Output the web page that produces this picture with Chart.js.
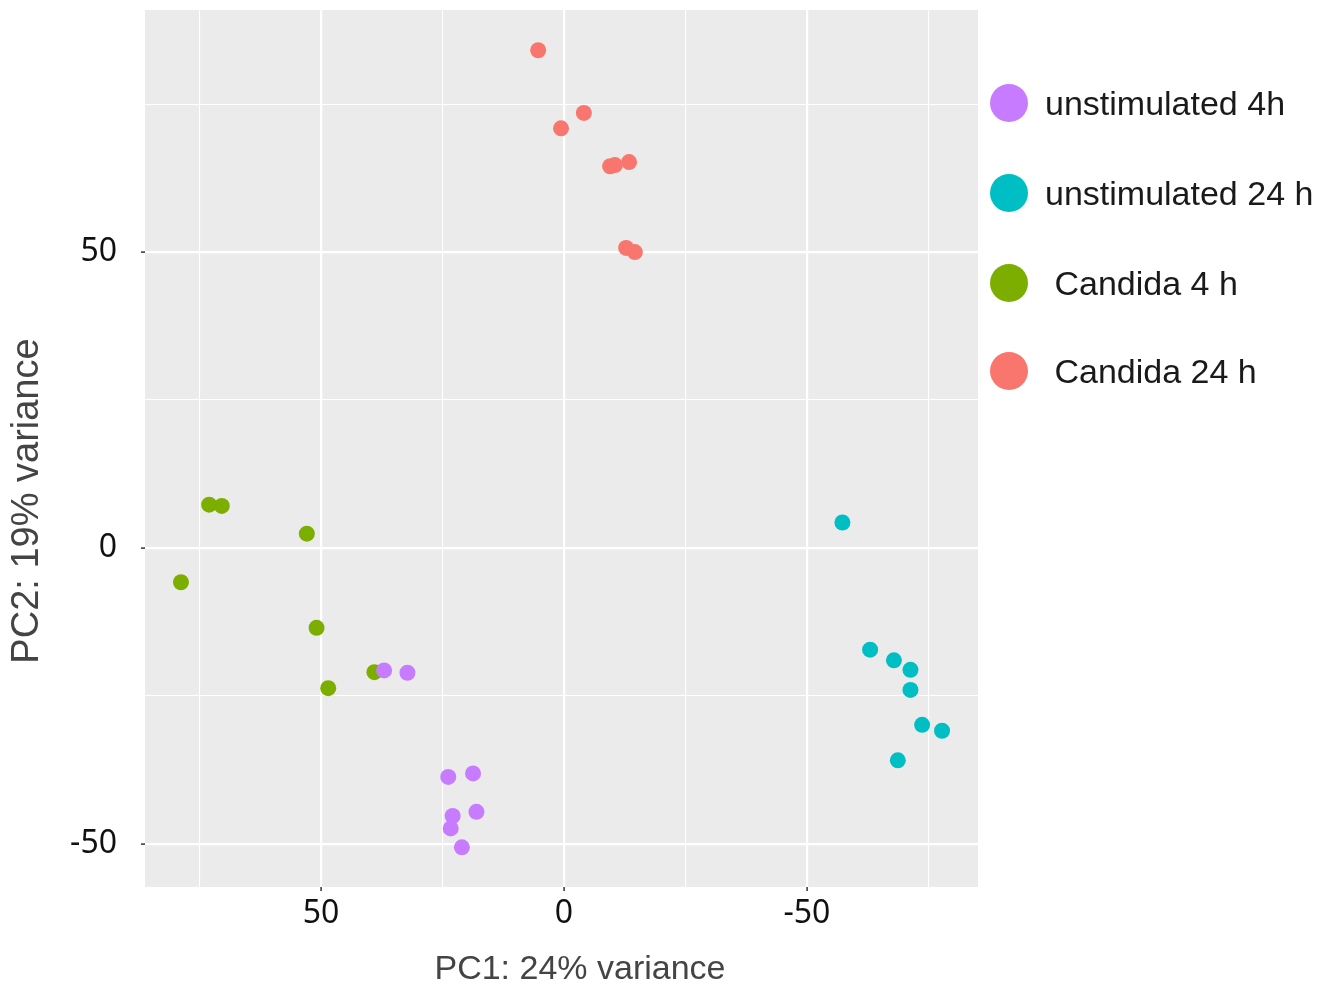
<!DOCTYPE html>
<html>
<head>
<meta charset="utf-8">
<script src="https://cdn.jsdelivr.net/npm/chart.js@4/dist/chart.umd.min.js"></script>
<style>
  body { margin: 0; background: #fff; }
  #wrap { position: relative; width: 1336px; height: 987px; }
  .leg { position: absolute; left: 990px; height: 40px; display: flex; align-items: center;
         font-family: 'Liberation Sans', Arial, sans-serif; font-size: 34px; color: #1a1a1a; white-space: pre; }
  .leg i { display: inline-block; width: 38px; height: 38px; border-radius: 50%; margin-right: 17px; }
</style>
</head>
<body>
<div id="wrap">
  <canvas id="myChart" width="1336" height="987"></canvas>
  <div id="legend"></div>
</div>
<script>
const groups = ['unstimulated 4h', 'unstimulated 24 h', ' Candida 4 h', ' Candida 24 h']
const colors = ['#C77CFF', '#00BFC4', '#7CAE00', '#F8766D']

// PC1 / PC2 per group
const unstim4_pc1 = [37.0, 32.2, 23.8, 18.7, 22.9, 18.0, 23.3, 21.0]
const unstim4_pc2 = [-20.7, -21.1, -38.7, -38.1, -45.3, -44.6, -47.4, -50.6]
const unstim24_pc1 = [-57.3, -63.0, -67.9, -71.3, -71.3, -73.7, -77.8, -68.7]
const unstim24_pc2 = [4.3, -17.2, -19.0, -20.6, -24.0, -29.9, -30.9, -35.9]
const candida4_pc1 = [73.0, 70.4, 52.9, 78.8, 50.9, 39.0, 48.5]
const candida4_pc2 = [7.3, 7.1, 2.4, -5.8, -13.5, -21.0, -23.7]
const candida24_pc1 = [5.3, 0.6, -4.1, -9.5, -10.5, -13.4, -12.8, -14.6]
const candida24_pc2 = [84.1, 70.9, 73.5, 64.5, 64.7, 65.2, 50.7, 50.0]

const xTicks = [-75, -50, -25, 0, 25, 50, 75]
const yTicks = [-50, -25, 0, 25, 50, 75]

function pts(xs, ys) {
  return xs.map((x, i) => ({ x: x, y: ys[i] }))
}
const series = [
  pts(unstim4_pc1, unstim4_pc2),
  pts(unstim24_pc1, unstim24_pc2),
  pts(candida4_pc1, candida4_pc2),
  pts(candida24_pc1, candida24_pc2)
]

// html legend
const legendTops = [83, 173, 263, 351]
groups.forEach((g, i) => {
  const d = document.createElement('div')
  d.className = 'leg'
  d.style.top = legendTops[i] + 'px'
  d.innerHTML = '<i style="background:' + colors[i] + '"></i>' + g
  document.getElementById('legend').appendChild(d)
})

const panelBg = {
  id: 'panelBg',
  beforeDraw(chart) {
    const { ctx, chartArea: a } = chart
    ctx.save()
    ctx.fillStyle = '#EBEBEB'
    ctx.fillRect(a.left, a.top, a.right - a.left, a.bottom - a.top)
    ctx.restore()
  }
}

const axisTitles = {
  id: 'axisTitles',
  afterDraw(chart) {
    const { ctx } = chart
    ctx.save()
    ctx.fillStyle = '#444'
    ctx.textAlign = 'center'
    ctx.textBaseline = 'middle'
    ctx.font = '34px "Liberation Sans", Arial, sans-serif'
    ctx.fillText('PC1: 24% variance', 580, 970)
    ctx.translate(28, 501)
    ctx.rotate(-Math.PI / 2)
    ctx.font = '38px "Liberation Sans", Arial, sans-serif'
    ctx.fillText('PC2: 19% variance', 0, 0)
    ctx.restore()
  }
}

const major = v => v % 50 === 0

new Chart(document.getElementById('myChart'), {
  type: 'scatter',
  data: {
    datasets: series.map((s, i) => ({
      label: groups[i],
      data: s,
      backgroundColor: colors[i],
      pointRadius: 8,
      pointBorderWidth: 0,
      pointHoverRadius: 8
    }))
  },
  options: {
    responsive: false,
    animation: false,
    layout: { padding: { top: 10, right: 358, left: 0, bottom: 0 } },
    plugins: { legend: { display: false }, tooltip: { enabled: false } },
    scales: {
      x: {
        type: 'linear',
        reverse: true,
        min: -85.2,
        max: 86.2,
        afterBuildTicks: s => { s.ticks = xTicks.map(v => ({ value: v })) },
        afterFit: s => { s.height = 100; s.paddingLeft = 0; s.paddingRight = 0 },
        border: { display: false },
        grid: {
          color: '#fff',
          lineWidth: c => major(c.tick.value) ? 2.2 : 1.1,
          tickColor: c => major(c.tick.value) ? '#333' : 'rgba(0,0,0,0)',
          tickLength: 4,
          tickWidth: 1.5
        },
        ticks: {
          autoSkip: false,
          maxRotation: 0,
          padding: 4,
          color: '#111',
          font: { family: 'Noto Sans', size: 32 },
          callback: v => major(v) ? String(v) : ''
        }
      },
      y: {
        type: 'linear',
        min: -57.3,
        max: 90.9,
        afterBuildTicks: s => { s.ticks = yTicks.map(v => ({ value: v })) },
        afterFit: s => { s.width = 145; s.paddingTop = 0; s.paddingBottom = 0 },
        border: { display: false },
        grid: {
          color: '#fff',
          lineWidth: c => major(c.tick.value) ? 2.2 : 1.1,
          tickColor: c => major(c.tick.value) ? '#333' : 'rgba(0,0,0,0)',
          tickLength: 4,
          tickWidth: 1.5
        },
        ticks: {
          autoSkip: false,
          padding: 24,
          color: '#111',
          font: { family: 'Noto Sans', size: 32 },
          callback: v => major(v) ? String(v) : ''
        }
      }
    }
  },
  plugins: [panelBg, axisTitles]
})
</script>
</body>
</html>
